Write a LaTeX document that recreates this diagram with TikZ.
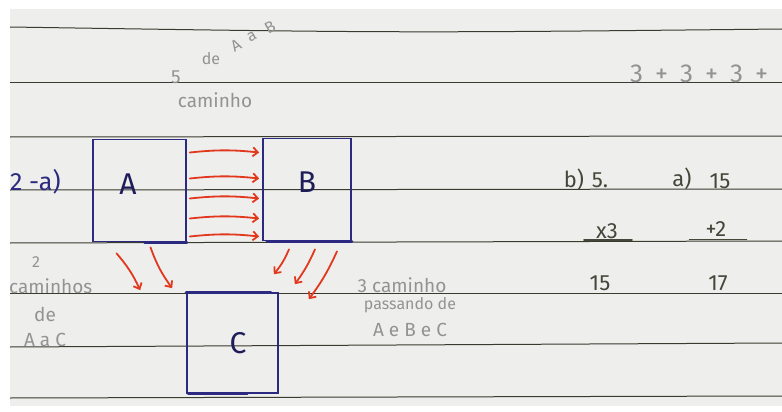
\documentclass[tikz,border=0pt]{standalone}
\usepackage{fontspec}
\setmainfont{Fira Sans}
\usetikzlibrary{arrows.meta,calc}
\definecolor{paper}{HTML}{EEEEEC}
\definecolor{rulecol}{HTML}{3A3A2E}
\definecolor{pencil}{HTML}{939393}
\definecolor{ink}{HTML}{2B2A80}
\definecolor{redink}{HTML}{E2381E}
\definecolor{darkpen}{HTML}{45463A}
\begin{document}
\begin{tikzpicture}[x=1pt,y=-1pt,
  ruled/.style={draw=rulecol,line width=1pt},
  box/.style={draw=ink,line width=1.7pt,inner sep=0pt},
  thickedge/.style={draw=ink,line width=3pt,line cap=round},
  boxlabel/.style={text=ink!70!black,font=\fontsize{30}{32}\selectfont,inner sep=0pt},
  redarrow/.style={draw=redink,line width=1.8pt,line cap=round,-{Straight Barb[length=5pt,width=9pt,line width=1.8pt]}},
  penciltext/.style={text=pencil,inner sep=0pt,font=\fontsize{19}{21}\selectfont},
  penciltextsmall/.style={text=pencil,inner sep=0pt,font=\fontsize{16}{18}\selectfont},
  diagtext/.style={penciltextsmall,rotate=29},
  inktext/.style={text=ink,inner sep=0pt,font=\fontsize{25}{27}\selectfont},
  darktext/.style={text=darkpen,inner sep=0pt,font=\fontsize{22}{24}\selectfont},
  underl/.style={draw=darkpen,line width=1.6pt,line cap=round}]
\useasboundingbox (0,0) rectangle (782,412);
\fill[white] (0,0) rectangle (782,412);
\fill[paper] (10,9) rectangle (782,406);
% ruled lines
\draw[ruled] (10,27) .. controls (400,33) .. (782,29);
\draw[ruled] (10,83) -- (782,83);
\draw[ruled] (10,137) -- (782,136);
\draw[ruled] (10,190) -- (782,189);
\draw[ruled] (10,243) -- (782,241);
\draw[ruled] (10,293) -- (782,293);
\draw[ruled] (10,347) -- (782,343);
\draw[ruled] (10,398) -- (782,396);
% boxes
\node[box,minimum width=93pt,minimum height=102pt] (A) at (139.5,190.5) {};
\node[box,minimum width=88pt,minimum height=102pt] (B) at (307,189.5) {};
\node[box,minimum width=91pt,minimum height=100pt] (C) at (232.5,343) {};
\draw[thickedge] ($(A.south)+(5,0)$) -- (A.south east);
\draw[thickedge] ($(B.south west)+(5,0)$) -- (B.south east);
\draw[thickedge] (C.north west) -- ($(C.north east)+(-8,0)$);
\draw[thickedge] ($(C.south west)+(2,0)$) -- ($(C.south)+(15,0)$);
\node[boxlabel] (Al) at (128,184) {A};
\node[boxlabel] (Bl) at (307,182) {B};
\node[boxlabel] (Cl) at (238,343) {C};
% A -> B arrows
\foreach \dy in {-38,-12,8,28,46}
  \draw[redarrow] ($(A.east)+(3,\dy)$) to[bend left=6] ($(B.west)+(-3,\dy+1)$);
% A -> C arrows
\draw[redarrow] ($(A.south)+(-23,11)$) to[bend left=8] ($(C.north west)+(-46,-2)$);
\draw[redarrow] ($(A.south)+(11,5)$) to[bend right=8] ($(C.north west)+(-14,-4)$);
% B -> C arrows
\draw[redarrow] ($(B.south)+(-18,8)$) to[bend left=8] ($(C.north east)+(-5,-18)$);
\draw[redarrow] ($(B.south)+(8,8)$) to[bend left=6] ($(C.north east)+(16,-8)$);
\draw[redarrow] ($(B.south)+(30,10)$) to[bend left=6] ($(C.north east)+(30,7)$);
% pencil notes
\node[penciltext] (five) at (176,77) {5};
\node[penciltextsmall] (dde) at (211,59) {de};
\node[diagtext] (dA) at (236,45) {A};
\node[diagtext] (da) at (252,37) {a};
\node[diagtext] (dB) at (270,27) {B};
\node[penciltext] (caminho) at (215,100) {caminho};
\node[text=pencil,inner sep=0pt,font=\fontsize{26}{28}\selectfont,anchor=west] (sum) at (630,74) {3\hspace{12pt}+\hspace{12pt}3\hspace{12pt}+\hspace{12pt}3\hspace{12pt}+};
\node[penciltextsmall] (two) at (36,262) {2};
\node[penciltext,anchor=west] (caminhos) at (9,286) {caminhos};
\node[penciltext] (de) at (45,314) {de};
\node[penciltext] (AaC) at (45,340) {A a C};
\node[penciltext] (tres) at (402,285) {3 caminho};
\node[penciltextsmall] (passando) at (410,305) {passando de};
\node[penciltext] (AeBeC) at (410,330) {A e B e C};
% ink notes
\node[inktext,anchor=west] (q2a) at (10,182) {2 -a)};
\node[darktext] (bq) at (586,180) {b)\hspace{8pt}5.};
\node[darktext] (aq) at (682,179) {a)};
\node[darktext] (n15a) at (720,181) {15};
\node[darktext] (x3) at (607,231) {x3};
\node[darktext] (p2) at (716,229) {+2};
\draw[underl] ($(x3.south west)+(-12,1)$) -- ($(x3.south east)+(14,1)$);
\draw[underl] ($(p2.south west)+(-16,3)$) -- ($(p2.south east)+(20,3)$);
\node[darktext] (n15b) at (600,283) {15};
\node[darktext] (n17) at (718,283) {17};
\end{tikzpicture}
\end{document}
